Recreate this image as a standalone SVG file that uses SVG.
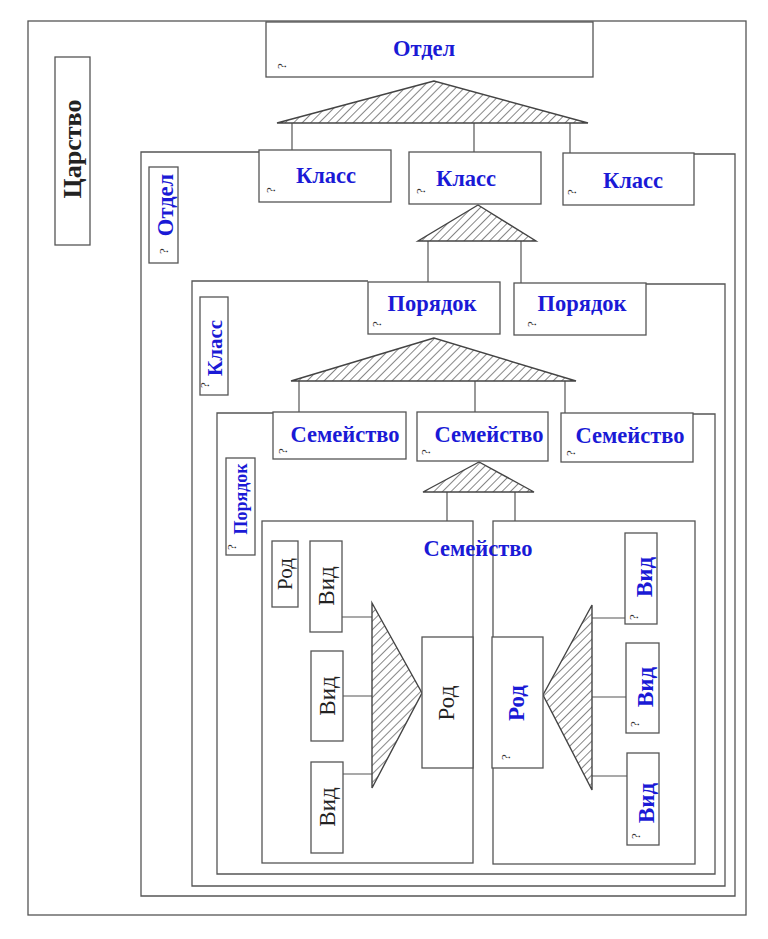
<svg xmlns="http://www.w3.org/2000/svg" width="768" height="939" viewBox="0 0 768 939">
<style>
.b{fill:#fff;stroke:#555;stroke-width:1.3}
.f{fill:none;stroke:#555;stroke-width:1.3}
.c{stroke:#555;stroke-width:1.2;fill:none}
.t{fill:url(#h);stroke:#444;stroke-width:1.4}
.bl{font-family:"Liberation Serif",serif;font-weight:bold;font-size:22.5px;fill:#1a1ad6;text-anchor:middle}
.bk{font-family:"Liberation Serif",serif;font-size:23px;fill:#222;text-anchor:middle}
.kb{font-family:"Liberation Serif",serif;font-weight:bold;font-size:26px;fill:#222;text-anchor:middle}
.q{font-family:"Liberation Serif",serif;font-size:13px;fill:#333;text-anchor:middle}
.v{font-size:23px}
</style>
<defs>
<pattern id="h" width="6" height="6" patternUnits="userSpaceOnUse" patternTransform="rotate(45)">
<line x1="0" y1="0" x2="0" y2="6" stroke="#333" stroke-width="1.2"/>
</pattern>
</defs>
<rect width="768" height="939" fill="#fff"/>
<g id="frames">
<rect class="f" x="28" y="21" width="718" height="894"/>
<path class="f" d="M260,152 H141 V896 H735 V154 H694"/>
<path class="f" d="M368,281 H192 V886 H725 V284 H646"/>
<path class="f" d="M273,413 H217 V874 H715 V414 H693"/>
</g>
<g id="connectors">
<path class="c" d="M292,123 V150 M474,123 V152 M570,123 V153"/>
<path class="c" d="M428,241 V282 M521,241 V283"/>
<path class="c" d="M299,381 V412 M475,381 V412 M565,381 V413"/>
<path class="c" d="M447,492 V521 M515,492 V521"/>
<path class="c" d="M342,617 H372 M343,696 H372 M343,774 H372"/>
<path class="c" d="M592,618 H625 M592,697 H626 M592,776 H627"/>
<polygon class="t" points="434,81 277,123 588,123"/>
<polygon class="t" points="478,205 418,241 536,241"/>
<polygon class="t" points="434,338 291,381 576,381"/>
<polygon class="t" points="479,462 423,492 534,492"/>
<polygon class="t" points="372,603 422,693 372,788"/>
<polygon class="t" points="543,695 592,605 592,790"/>
</g>
<g id="tsarstvo">
<rect class="b" x="55" y="57" width="35" height="188"/>
<text class="kb" transform="translate(81,149) rotate(-90)">Царство</text>
</g>
<g id="otdel-top">
<rect class="b" x="266" y="22" width="327" height="55"/>
<text class="bl" x="424" y="56">Отдел</text>
<text class="q" transform="translate(286,66) rotate(-90)">?</text>
</g>
<g id="otdel-label">
<rect class="b" x="149" y="167" width="29" height="96"/>
<text class="bl" transform="translate(173,205) rotate(-90)">Отдел</text>
<text class="q" transform="translate(168,251) rotate(-90)">?</text>
</g>
<g id="klass1">
<rect class="b" x="259" y="150" width="132" height="52"/>
<text class="bl" x="326" y="183">Класс</text>
<text class="q" transform="translate(275,190) rotate(-90)">?</text>
</g>
<g id="klass2">
<rect class="b" x="409" y="152" width="132" height="52"/>
<text class="bl" x="466" y="186">Класс</text>
<text class="q" transform="translate(425,191) rotate(-90)">?</text>
</g>
<g id="klass3">
<rect class="b" x="563" y="153" width="131" height="52"/>
<text class="bl" x="633" y="188">Класс</text>
<text class="q" transform="translate(576,192) rotate(-90)">?</text>
</g>
<g id="klass-label">
<rect class="b" x="200" y="297" width="28" height="98"/>
<text class="bl" style="font-size:21px" transform="translate(222,348) rotate(-90)">Класс</text>
<text class="q" transform="translate(209,385) rotate(-90)">?</text>
</g>
<g id="poryadok1">
<rect class="b" x="368" y="282" width="132" height="52"/>
<text class="bl" x="432" y="311">Порядок</text>
<text class="q" transform="translate(381,324) rotate(-90)">?</text>
</g>
<g id="poryadok2">
<rect class="b" x="514" y="283" width="132" height="52"/>
<text class="bl" x="582" y="311">Порядок</text>
<text class="q" transform="translate(536,324) rotate(-90)">?</text>
</g>
<g id="poryadok-label">
<rect class="b" x="226" y="458" width="29" height="97"/>
<text class="bl" style="font-size:18px" transform="translate(247,499) rotate(-90)">Порядок</text>
<text class="q" transform="translate(236,547) rotate(-90)">?</text>
</g>
<g id="semeystvo1">
<rect class="b" x="273" y="412" width="133" height="47"/>
<text class="bl" x="345" y="442">Семейство</text>
<text class="q" transform="translate(287,451) rotate(-90)">?</text>
</g>
<g id="semeystvo2">
<rect class="b" x="417" y="412" width="131" height="49"/>
<text class="bl" x="489" y="442">Семейство</text>
<text class="q" transform="translate(430,452) rotate(-90)">?</text>
</g>
<g id="semeystvo3">
<rect class="b" x="561" y="413" width="132" height="49"/>
<text class="bl" x="630" y="443">Семейство</text>
<text class="q" transform="translate(575,453) rotate(-90)">?</text>
</g>
<g id="semeystvo-left">
<rect class="f" x="262" y="521" width="211" height="342"/>
</g>
<g id="semeystvo-right">
<rect class="f" x="493" y="521" width="202" height="343"/>
</g>
<text class="bl" x="478" y="556">Семейство</text>
<g id="rod-small">
<rect class="b" x="272" y="541" width="26" height="66"/>
<text class="bk" style="font-size:21px" transform="translate(292,574) rotate(-90)">Род</text>
</g>
<g id="vid-l1">
<rect class="b" x="310" y="541" width="32" height="91"/>
<text class="bk" transform="translate(334,586) rotate(-90)">Вид</text>
</g>
<g id="vid-l2">
<rect class="b" x="311" y="651" width="32" height="90"/>
<text class="bk" transform="translate(335,696) rotate(-90)">Вид</text>
</g>
<g id="vid-l3">
<rect class="b" x="311" y="762" width="32" height="91"/>
<text class="bk" transform="translate(335,807) rotate(-90)">Вид</text>
</g>
<g id="rod-l">
<rect class="b" x="422" y="637" width="51" height="131"/>
<text class="bk" transform="translate(454,703) rotate(-90)">Род</text>
</g>
<g id="rod-r">
<rect class="b" x="492" y="637" width="51" height="131"/>
<text class="bl v" transform="translate(524,703) rotate(-90)">Род</text>
<text class="q" transform="translate(510,757) rotate(-90)">?</text>
</g>
<g id="vid-r1">
<rect class="b" x="625" y="533" width="32" height="91"/>
<text class="bl v" transform="translate(652,577) rotate(-90)">Вид</text>
<text class="q" transform="translate(638,617) rotate(-90)">?</text>
</g>
<g id="vid-r2">
<rect class="b" x="626" y="643" width="33" height="90"/>
<text class="bl v" transform="translate(653,687) rotate(-90)">Вид</text>
<text class="q" transform="translate(639,724) rotate(-90)">?</text>
</g>
<g id="vid-r3">
<rect class="b" x="627" y="753" width="32" height="92"/>
<text class="bl v" transform="translate(654,803) rotate(-90)">Вид</text>
<text class="q" transform="translate(640,836) rotate(-90)">?</text>
</g>
</svg>
